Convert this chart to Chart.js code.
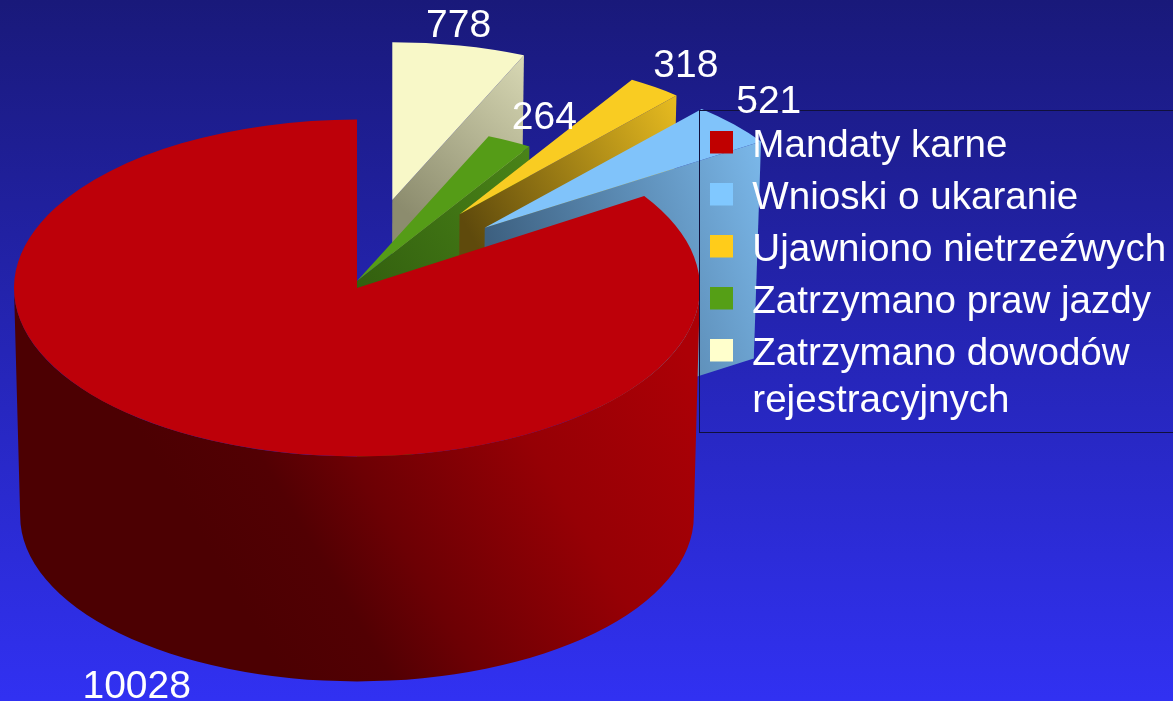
<!DOCTYPE html>
<html>
<head>
<meta charset="utf-8">
<title>Wykres</title>
<script src="https://cdn.jsdelivr.net/npm/chart.js@4"></script>
<style>
    html, body { margin: 0; padding: 0; overflow: hidden; }
    body { width: 1173px; height: 701px; background: linear-gradient(to bottom, #19197a, #3131f2); }
    canvas { display: block; }
</style>
</head>
<body>
<canvas id="chart" width="1173" height="701"></canvas>
<script>
// clockwise from 12 o'clock, the legend lists them the other way round
var categories = [
    ['Zatrzymano dowodów', 'rejestracyjnych'],
    'Zatrzymano praw jazdy',
    'Ujawniono nietrzeźwych',
    'Wnioski o ukaranie',
    'Mandaty karne'
];
var values = [778, 264, 318, 521, 10028];

var topColors = ['#f8f8c8', '#559c17', '#f9cc22', '#80c3fa', '#bd0009'];
var legendColors = ['#ffffcc', '#559f16', '#ffcc1a', '#80c8ff', '#c00000'];
var cutColors = [['#8c8c6e', '#d8d8b4'], ['#33600f', '#4a8418'], ['#5f4a0c', '#e8bc20'], ['#3d6080', '#7bb8ea'], null];
var explode = [180, 0, 180, 176, 0];
var labelShift = [[-1, -19], [35, -23], [31, -21], [35, -22], [-57, 23]];

var RADIUS = 343;
var DEPTH = 228;
var BACK_DEPTH = 217;
var BOTTOM_SCALE = 0.982;
// the slices at the back sit a bit further away than the big one
var backView = { x: 357, y: 281, sx: 0.962, sy: 0.46 };
var frontView = { x: 357, y: 288, sx: 1, sy: 0.491 };

function viewOf(index) {
    return index === values.length - 1 ? frontView : backView;
}

// point on the tilted disc, r and angle are read in the arc's own plane
function project(arc, index, r, angle) {
    var view = viewOf(index);
    var mid = (arc.startAngle + arc.endAngle) / 2;
    var px = Math.cos(mid) * explode[index] + Math.cos(angle) * r;
    var py = Math.sin(mid) * explode[index] + Math.sin(angle) * r;
    return { x: view.x + px * view.sx, y: view.y + py * view.sy };
}

function dropDown(p) {
    return { x: 357 + (p.x - 357) * BOTTOM_SCALE, y: p.y + BACK_DEPTH };
}

function drawCutFace(ctx, arc, index) {
    var apex = project(arc, index, 0, arc.endAngle);
    var outer = project(arc, index, arc.outerRadius, arc.endAngle);
    var apexLow = dropDown(apex);
    var outerLow = dropDown(outer);
    var gradient = ctx.createLinearGradient(apex.x, apex.y, outer.x, outer.y);
    gradient.addColorStop(0, cutColors[index][0]);
    gradient.addColorStop(1, cutColors[index][1]);
    ctx.fillStyle = gradient;
    ctx.beginPath();
    ctx.moveTo(apex.x, apex.y);
    ctx.lineTo(outer.x, outer.y);
    ctx.lineTo(outerLow.x, outerLow.y);
    ctx.lineTo(apexLow.x, apexLow.y);
    ctx.closePath();
    ctx.fill();
}

function drawWall(ctx, arc, index) {
    var view = viewOf(index);
    var rx = arc.outerRadius * view.sx;
    var ry = arc.outerRadius * view.sy;
    var gradient = ctx.createLinearGradient(250, 620, 690, 360);
    gradient.addColorStop(0, '#4c0002');
    gradient.addColorStop(0.18, '#520003');
    gradient.addColorStop(0.33, '#6c0004');
    gradient.addColorStop(0.65, '#960005');
    gradient.addColorStop(1, '#ac0006');
    ctx.fillStyle = gradient;
    ctx.beginPath();
    ctx.ellipse(view.x, view.y, rx, ry, 0, 0, Math.PI);
    ctx.ellipse(view.x, view.y + DEPTH, rx * BOTTOM_SCALE, ry * BOTTOM_SCALE, 0, Math.PI, 0, true);
    ctx.closePath();
    ctx.fill();
}

function drawTop(ctx, arc, index) {
    var view = viewOf(index);
    var mid = (arc.startAngle + arc.endAngle) / 2;
    ctx.save();
    ctx.translate(view.x + Math.cos(mid) * explode[index] * view.sx, view.y + Math.sin(mid) * explode[index] * view.sy);
    ctx.scale(view.sx, view.sy);
    ctx.translate(-arc.x, -arc.y);
    arc.draw(ctx);
    ctx.restore();
}

// legend marker: the swatch sits a little above the middle of the text
function swatch(color) {
    var c = document.createElement('canvas');
    c.width = 23;
    c.height = 31;
    var g = c.getContext('2d');
    g.fillStyle = color;
    g.fillRect(0, 0, 23, 23);
    return c;
}

var pie3d = {
    id: 'pie3d',
    afterLayout: function (chart) {
        // legend is free-floating, it draws clipped to its own box
        chart.legend.left = 696.6;
        chart.legend.top = 113.3;
        chart.legend.right = 1173;
        chart.legend.bottom = 440;
    },
    beforeDraw: function (chart) {
        var ctx = chart.ctx;
        var arcs = chart.getDatasetMeta(0).data;
        arcs.forEach(function (arc, index) {
            if (cutColors[index]) {
                drawCutFace(ctx, arc, index);
            } else {
                drawWall(ctx, arc, index);
            }
            drawTop(ctx, arc, index);
        });
    },
    beforeDatasetDraw: function () {
        return false;
    },
    afterDraw: function (chart) {
        var ctx = chart.ctx;
        ctx.save();
        ctx.strokeStyle = '#10103c';
        ctx.lineWidth = 1;
        ctx.strokeRect(699.5, 110.5, 500, 322);

        ctx.fillStyle = '#ffffff';
        ctx.font = '39px "Liberation Sans"';
        ctx.textAlign = 'center';
        ctx.textBaseline = 'middle';
        chart.getDatasetMeta(0).data.forEach(function (arc, index) {
            var mid = (arc.startAngle + arc.endAngle) / 2;
            var rim = project(arc, index, arc.outerRadius, mid);
            var low = cutColors[index] ? 0 : DEPTH;
            ctx.fillText(String(values[index]), rim.x + labelShift[index][0], rim.y + low + labelShift[index][1]);
        });
        ctx.restore();
    }
};

new Chart(document.getElementById('chart'), {
    type: 'pie',
    data: {
        labels: categories,
        datasets: [{
            data: values,
            backgroundColor: topColors,
            borderWidth: 0
        }]
    },
    options: {
        responsive: false,
        animation: false,
        radius: RADIUS,
        layout: { padding: { left: 0, top: 0, right: 459, bottom: 137 } },
        plugins: {
            tooltip: { enabled: false },
            legend: {
                position: 'chartArea',
                align: 'start',
                reverse: true,
                labels: {
                    usePointStyle: true,
                    pointStyleWidth: 23,
                    boxHeight: 23,
                    padding: 13.4,
                    color: '#ffffff',
                    font: { family: '"Liberation Sans"', size: 38.6, lineHeight: 1.22 },
                    generateLabels: function (chart) {
                        var items = Chart.overrides.pie.plugins.legend.labels.generateLabels(chart);
                        items.forEach(function (item) {
                            item.pointStyle = swatch(legendColors[item.index]);
                        });
                        return items;
                    }
                }
            }
        }
    },
    plugins: [pie3d]
});
</script>
</body>
</html>
